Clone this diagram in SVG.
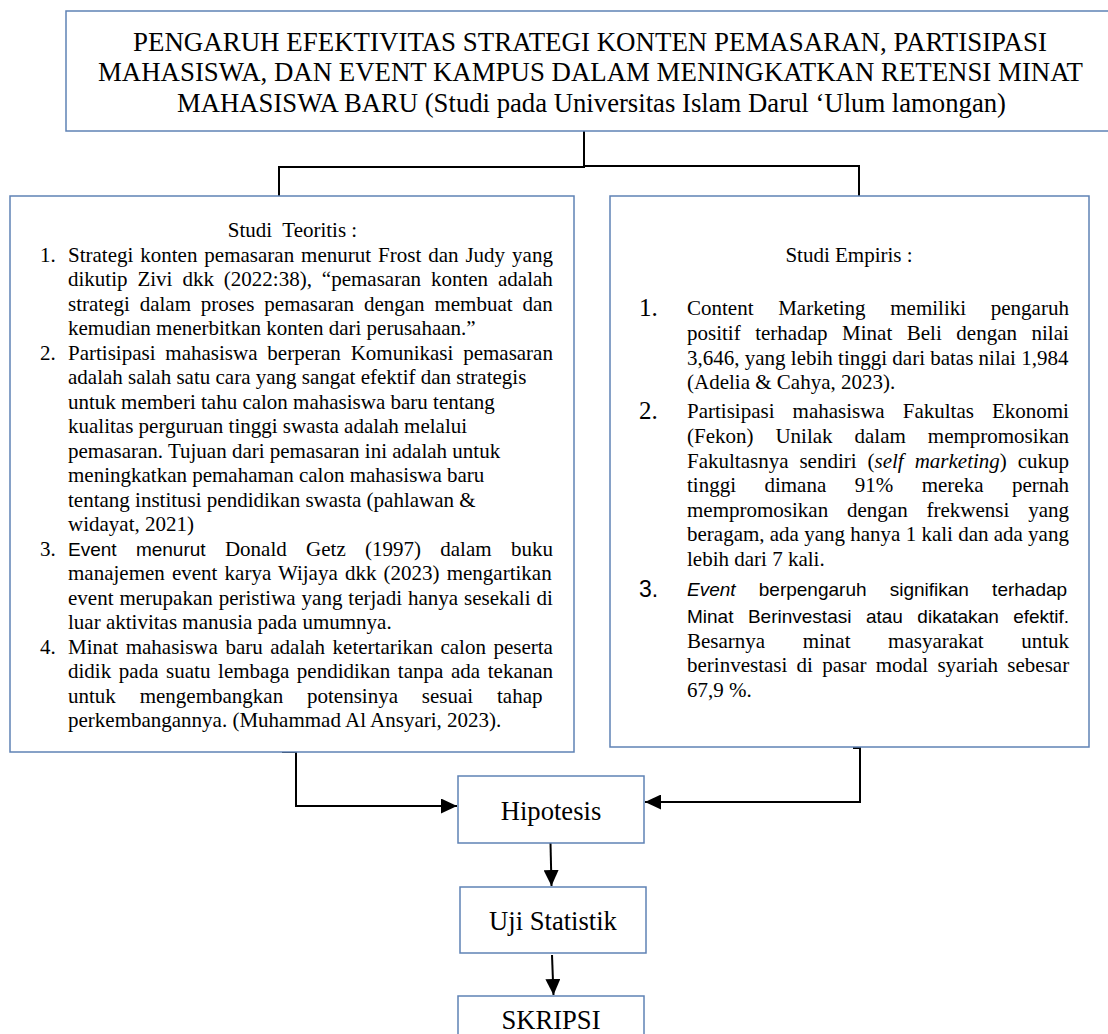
<svg xmlns="http://www.w3.org/2000/svg" width="1108" height="1034" viewBox="0 0 1108 1034">
<style>
.box{fill:#fff;stroke:#5f82b5;stroke-width:1.5}
.t{font-family:"Liberation Serif","Times New Roman",serif;font-size:21px;fill:#000}
.ti{font-family:"Liberation Serif","Times New Roman",serif;font-size:26.6px;fill:#000}
.lb{font-family:"Liberation Serif","Times New Roman",serif;font-size:26.6px;fill:#000;text-anchor:middle}
.s{font-family:"Liberation Sans",Arial,sans-serif;font-size:19px}
.n{font-family:"Liberation Serif","Times New Roman",serif;font-size:25px;fill:#000}
.ns{font-family:"Liberation Sans",Arial,sans-serif;font-size:23px;fill:#000}
.c{fill:none;stroke:#000;stroke-width:2}
.ca{fill:none;stroke:#000;stroke-width:2;marker-end:url(#ah)}
</style>
<defs>
<marker id="ah" viewBox="0 0 16 15" refX="16" refY="7.5" markerWidth="16" markerHeight="15" markerUnits="userSpaceOnUse" orient="auto">
<path d="M0,0 L16,7.5 L0,15 Z" fill="#000"/>
</marker>
</defs>
<rect width="1108" height="1034" fill="#fff"/>

<g id="connectors">
<path class="c" d="M584,131 V167"/>
<path class="c" d="M279,196 V167 H585"/>
<path class="c" d="M584,166 H859 V196"/>
<path class="ca" d="M282,752 H296 V806 H457"/>
<path class="ca" d="M853,748 H860 V802 H645"/>
<path class="ca" d="M550.5,843 L551.5,886"/>
<path class="ca" d="M552,955 L553.5,995"/>
</g>

<g id="title">
<rect class="box" x="66" y="11" width="1060" height="120"/>
<text class="ti" x="133" y="51" textLength="914" lengthAdjust="spacingAndGlyphs">PENGARUH EFEKTIVITAS STRATEGI KONTEN PEMASARAN, PARTISIPASI</text>
<text class="ti" x="98" y="81" textLength="985" lengthAdjust="spacingAndGlyphs">MAHASISWA, DAN EVENT KAMPUS DALAM MENINGKATKAN RETENSI MINAT</text>
<text class="ti" x="177" y="111.5" textLength="829" lengthAdjust="spacingAndGlyphs">MAHASISWA BARU (Studi pada Universitas Islam Darul ‘Ulum lamongan)</text>
</g>

<g id="teoritis">
<rect class="box" x="10" y="196" width="564" height="556"/>
<text class="t" x="292.5" y="237" text-anchor="middle">Studi&#160; Teoritis :</text>
<text class="t" x="40" y="261.5">1.</text>
<text class="t" x="68" y="261.5" style="word-spacing:1.7px">Strategi konten pemasaran menurut Frost dan Judy yang</text>
<text class="t" x="68" y="286" style="word-spacing:4.7px">dikutip Zivi dkk (2022:38), “pemasaran konten adalah</text>
<text class="t" x="68" y="310.5" style="word-spacing:4.6px">strategi dalam proses pemasaran dengan membuat dan</text>
<text class="t" x="68" y="335">kemudian menerbitkan konten dari perusahaan.”</text>
<text class="t" x="40" y="359.5">2.</text>
<text class="t" x="68" y="359.5" style="word-spacing:4.6px">Partisipasi mahasiswa berperan Komunikasi pemasaran</text>
<text class="t" x="68" y="384">adalah salah satu cara yang sangat efektif dan strategis</text>
<text class="t" x="68" y="408.5">untuk memberi tahu calon mahasiswa baru tentang</text>
<text class="t" x="68" y="433">kualitas perguruan tinggi swasta adalah melalui</text>
<text class="t" x="68" y="457.5">pemasaran. Tujuan dari pemasaran ini adalah untuk</text>
<text class="t" x="68" y="482">meningkatkan pemahaman calon mahasiswa baru</text>
<text class="t" x="68" y="506.5">tentang institusi pendidikan swasta (pahlawan &amp;</text>
<text class="t" x="68" y="531">widayat, 2021)</text>
<text class="t" x="40" y="555.5">3.</text>
<text class="t" y="555.5"><tspan class="s" x="68">Event</tspan><tspan class="s" x="135.9">menurut</tspan><tspan x="224.9">Donald</tspan><tspan x="306.1">Getz</tspan><tspan x="365">(1997)</tspan><tspan x="440.3">dalam</tspan><tspan x="511">buku</tspan></text>
<text class="t" x="68" y="580" style="word-spacing:1.9px">manajemen event karya Wijaya dkk (2023) mengartikan</text>
<text class="t" x="68" y="604.5" style="word-spacing:0.7px">event merupakan peristiwa yang terjadi hanya sesekali di</text>
<text class="t" x="68" y="629">luar aktivitas manusia pada umumnya.</text>
<text class="t" x="40" y="653.5">4.</text>
<text class="t" x="68" y="653.5" style="word-spacing:2.3px">Minat mahasiswa baru adalah ketertarikan calon peserta</text>
<text class="t" x="68" y="678" style="word-spacing:2.4px">didik pada suatu lembaga pendidikan tanpa ada tekanan</text>
<text class="t" x="68" y="702.5" style="word-spacing:18.6px">untuk mengembangkan potensinya sesuai tahap</text>
<text class="t" x="68" y="727">perkembangannya. (Muhammad Al Ansyari, 2023).</text>
</g>

<g id="empiris">
<rect class="box" x="610" y="196" width="479" height="551"/>
<text class="t" x="849" y="262" text-anchor="middle">Studi Empiris :</text>
<text class="n" x="639" y="316">1.</text>
<text class="t" x="687" y="315" style="word-spacing:19.4px">Content Marketing memiliki pengaruh</text>
<text class="t" x="687" y="340" style="word-spacing:9.3px">positif terhadap Minat Beli dengan nilai</text>
<text class="t" x="687" y="364.5">3,646, yang lebih tinggi dari batas nilai 1,984</text>
<text class="t" x="687" y="389">(Adelia &amp; Cahya, 2023).</text>
<text class="n" x="639" y="419">2.</text>
<text class="t" x="687" y="418" style="word-spacing:12.8px">Partisipasi mahasiswa Fakultas Ekonomi</text>
<text class="t" x="687" y="443" style="word-spacing:16.7px">(Fekon) Unilak dalam mempromosikan</text>
<text class="t" x="687" y="467.5" style="word-spacing:5.7px">Fakultasnya sendiri (<tspan font-style="italic">self marketing</tspan>) cukup</text>
<text class="t" x="687" y="492" style="word-spacing:23.2px">tinggi dimana 91% mereka pernah</text>
<text class="t" x="687" y="516.5" style="word-spacing:13.6px">mempromosikan dengan frekwensi yang</text>
<text class="t" x="687" y="541">beragam, ada yang hanya 1 kali dan ada yang</text>
<text class="t" x="687" y="566">lebih dari 7 kali.</text>
<text class="ns" x="639" y="597">3.</text>
<text class="t s" x="687" y="596" style="word-spacing:17.9px"><tspan font-style="italic">Event</tspan> berpengaruh signifikan terhadap</text>
<text class="t s" x="687" y="622.5" style="word-spacing:9.2px">Minat Berinvestasi atau dikatakan efektif.</text>
<text class="t" x="687" y="648" style="word-spacing:32.3px">Besarnya minat masyarakat untuk</text>
<text class="t" x="687" y="672" style="word-spacing:4px">berinvestasi di pasar modal syariah sebesar</text>
<text class="t" x="687" y="697">67,9 %.</text>
</g>

<g id="hipotesis">
<rect class="box" x="458" y="776" width="186" height="67"/>
<text class="lb" x="551" y="820">Hipotesis</text>
</g>
<g id="uji">
<rect class="box" x="460" y="887" width="186" height="66"/>
<text class="lb" x="553" y="930">Uji Statistik</text>
</g>
<g id="skripsi">
<rect class="box" x="458" y="996" width="186" height="67"/>
<text class="lb" x="551" y="1029">SKRIPSI</text>
</g>
</svg>
